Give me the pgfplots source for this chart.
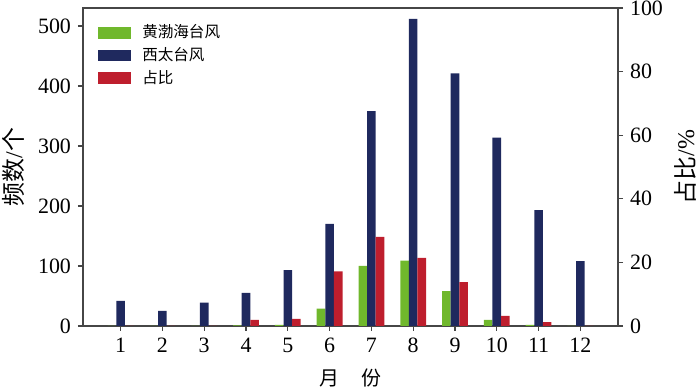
\documentclass[border=0pt]{standalone}
\usepackage{pgfplots}
\pgfplotsset{compat=1.18}
\usepackage{pgfplotstable}
\usepackage{fontspec}
\setmainfont{Liberation Serif}
\newfontfamily\cjk{Noto Sans CJK SC}
\newlength\px \setlength\px{0.5bp}
\definecolor{cgreen}{RGB}{112,184,44}
\definecolor{cnavy}{RGB}{31,41,94}
\definecolor{cred}{RGB}{190,30,45}
\definecolor{axgray}{RGB}{70,70,70}

\pgfplotstableread{
m g w r
1 0 42 0
2 0 25 0
3 0 39 0
4 1 55 1.9
5 2 93 2.2
6 29 170 17.2
7 100 358 28.0
8 109 512 21.4
9 58 421 13.8
10 10 314 3.2
11 2 193 1.2
12 0 108 0
}\data

\begin{document}
\begin{tikzpicture}
\pgfplotsset{
 lg/.style={legend image code/.code={\fill[##1] (0pt,-5.8\px) rectangle (33\px,5.8\px);}},
 common/.style={
  scale only axis, width=535\px, height=318\px,
  xmin=0.1, xmax=12.9, ymin=0,
  axis line style={axgray, line width=0.55pt},
  tick style={axgray, line width=0.55pt},
  tick align=outside, major tick length=5\px, minor tick num=0,
  ticklabel style={font=\fontsize{11}{13}\selectfont},
  /pgf/number format/assume math mode=true,
  ybar, bar width=8.6\px,
 }
}
\begin{axis}[common, name=ax, ymax=530, ytick={0,100,...,500}, xtick={1,...,12},
  xtick pos=bottom, ytick pos=left,
  every axis y label/.style={at={(rel axis cs:0,0.5)}, anchor=center, xshift=-70\px, rotate=90, font=\fontsize{12}{14}\selectfont},
  every axis x label/.style={at={(rel axis cs:0.5,0)}, anchor=center, yshift=-52\px, font=\cjk\fontsize{10}{12}\selectfont},
  ylabel={{\cjk 频数}/{\cjk 个}}, xlabel={月\hspace{1.1em}份},
  legend style={at={(rel axis cs:0.028,0.955)}, anchor=north west, draw=none, fill=none,
    inner sep=0pt, font=\cjk\fontsize{7.8}{9}\selectfont, row sep=1.3pt, column sep=4.5pt,
    nodes={inner sep=1pt}},
  legend cell align=left]
\addplot[fill=cgreen, draw=none, bar shift=-8.6\px, lg] table[x=m,y=g]{\data};
\addplot[fill=cnavy, draw=none, bar shift=0pt, lg] table[x=m,y=w]{\data};
\addlegendimage{fill=cred, draw=none, lg}
\legend{黄渤海台风,西太台风,占比}
\end{axis}
\begin{axis}[common, ymax=100, axis y line*=right, axis x line=none, ytick={0,20,...,100},
  every axis y label/.style={at={(rel axis cs:1,0.5)}, anchor=center, xshift=67\px, rotate=90, font=\fontsize{12}{14}\selectfont},
  ylabel={{\cjk 占比}/\%}]
\addplot[fill=cred, draw=none, bar shift=8.6\px] table[x=m,y=r]{\data};
\end{axis}
\pgfresetboundingbox
\path[use as bounding box] ([xshift=-83\px,yshift=-63\px]ax.south west) rectangle ([xshift=82\px,yshift=8\px]ax.north east);
\end{tikzpicture}
\end{document}
